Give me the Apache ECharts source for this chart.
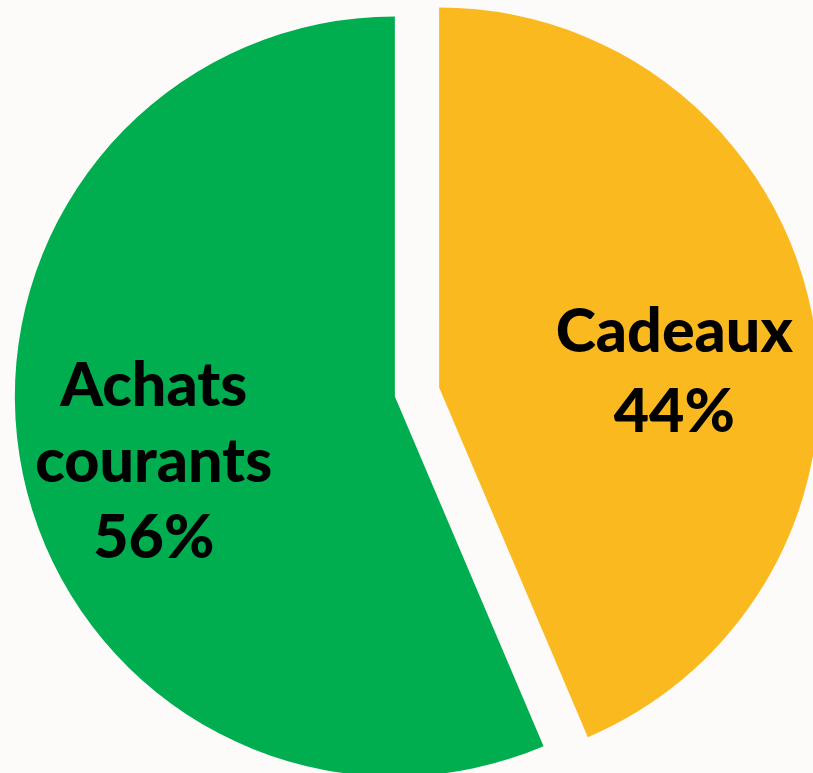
<!DOCTYPE html>
<html>
<head>
<meta charset="utf-8">
<script src="https://cdn.jsdelivr.net/npm/echarts@6/dist/echarts.min.js"></script>
<style>
  html, body { margin: 0; padding: 0; background: #fcfbf9; }
  #chart { width: 813px; height: 773px; }
</style>
</head>
<body>
<div id="chart"></div>
<script>
  const categories = ['Cadeaux', 'Achats courants']
  const values = [43.6, 56.4]
  const colors = ['#fbb920', '#00ad4f']
  // label nudges (px) away from the default inside position
  const labelShift = [[46, 23], [-52, 27]]
  const labelLineHeight = [80, 76]

  const chart = echarts.init(document.getElementById('chart'))
  chart.setOption({
    backgroundColor: '#fcfbf9',
    animation: false,
    series: [
      {
        type: 'pie',
        center: [417, 392],
        radius: 380,
        startAngle: 90,
        clockwise: true,
        selectedMode: 'multiple',
        selectedOffset: 22.6,
        emphasis: { disabled: true },
        label: {
          position: 'inside',
          color: '#000',
          fontFamily: 'Lato',
          fontWeight: 900,
          fontSize: 61,
          align: 'center',
          formatter: function (p) {
            return p.name.replace(' ', '\n') + '\n' + Math.round(p.percent) + '%'
          }
        },
        labelLine: { show: false },
        labelLayout: function (p) {
          return { dx: labelShift[p.dataIndex][0], dy: labelShift[p.dataIndex][1] }
        },
        data: categories.map(function (name, i) {
          return {
            name: name,
            value: values[i],
            selected: true,
            label: { lineHeight: labelLineHeight[i] },
            itemStyle: { color: colors[i] }
          }
        })
      }
    ]
  })
</script>
</body>
</html>
